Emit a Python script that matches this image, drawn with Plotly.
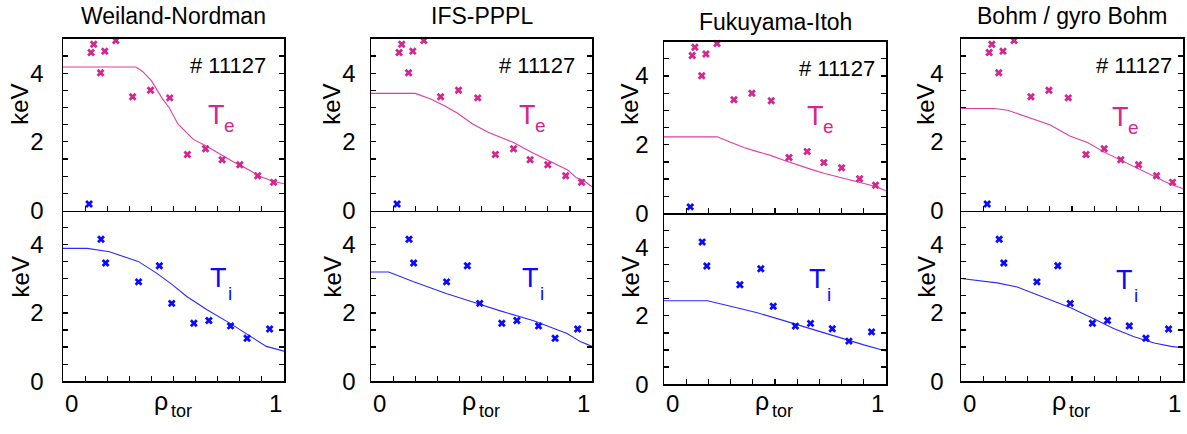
import plotly.graph_objects as go

# ---------------- data ----------------
models = ["Weiland-Nordman", "IFS-PPPL", "Fukuyama-Itoh", "Bohm / gyro Bohm"]
shot_label = "# 11127"

# measured electron temperature (keV)
rho_te = [0.127, 0.139, 0.170, 0.189, 0.239, 0.315, 0.396, 0.483, 0.563, 0.645, 0.720, 0.800, 0.881, 0.953]
te_meas = [4.60, 4.84, 4.01, 4.64, 4.95, 3.31, 3.50, 3.28, 1.63, 1.80, 1.48, 1.33, 1.01, 0.82]

# measured ion temperature (keV)
rho_ti = [0.172, 0.193, 0.342, 0.436, 0.492, 0.592, 0.660, 0.758, 0.833, 0.935]
ti_meas = [4.16, 3.46, 2.91, 3.38, 2.28, 1.70, 1.78, 1.62, 1.26, 1.53]

# single blue point in the Te panels
rho_blue = [0.118]
val_blue = [0.19]

# simulated profiles, per model
te_model_rho = [
    [0.0, 0.33, 0.36, 0.40, 0.45, 0.48, 0.52, 0.56, 0.59, 0.65, 0.71, 0.77, 0.83, 0.89, 0.95, 1.0],
    [0.0, 0.20, 0.27, 0.33, 0.39, 0.46, 0.53, 0.59, 0.645, 0.69, 0.74, 0.83, 0.89, 0.93, 0.96, 1.0],
    [0.0, 0.24, 0.30, 0.36, 0.42, 0.48, 0.54, 0.60, 0.66, 0.72, 0.78, 0.84, 0.90, 0.945, 1.0],
    [0.0, 0.15, 0.21, 0.30, 0.40, 0.49, 0.57, 0.645, 0.72, 0.81, 0.886, 0.946, 1.0],
]
te_model = [
    [4.18, 4.18, 4.05, 3.78, 3.25, 3.00, 2.52, 2.25, 2.07, 1.87, 1.64, 1.42, 1.22, 1.00, 0.85, 0.78],
    [3.41, 3.41, 3.25, 3.06, 2.84, 2.52, 2.28, 2.12, 1.98, 1.82, 1.65, 1.37, 1.18, 0.95, 0.88, 0.69],
    [2.23, 2.23, 2.07, 1.92, 1.80, 1.69, 1.55, 1.41, 1.29, 1.17, 1.07, 0.99, 0.87, 0.80, 0.66],
    [2.97, 2.97, 2.92, 2.73, 2.50, 2.17, 1.98, 1.70, 1.46, 1.18, 0.95, 0.76, 0.64],
]
ti_model_rho = [
    [0.0, 0.11, 0.21, 0.34, 0.42, 0.49, 0.56, 0.65, 0.76, 0.85, 0.92, 1.0],
    [0.0, 0.08, 0.19, 0.34, 0.45, 0.585, 0.736, 0.826, 0.887, 0.947, 1.0],
    [0.0, 0.196, 0.30, 0.42, 0.54, 0.66, 0.78, 0.90, 1.0],
    [0.0, 0.072, 0.163, 0.253, 0.328, 0.404, 0.494, 0.60, 0.69, 0.78, 0.87, 0.946, 1.0],
]
ti_model = [
    [3.89, 3.89, 3.79, 3.51, 3.18, 2.85, 2.48, 2.10, 1.68, 1.30, 1.02, 0.88],
    [3.20, 3.20, 2.92, 2.57, 2.34, 2.06, 1.77, 1.54, 1.40, 1.16, 1.02],
    [2.44, 2.44, 2.28, 2.09, 1.86, 1.62, 1.39, 1.15, 0.97],
    [3.01, 2.95, 2.88, 2.76, 2.57, 2.39, 2.15, 1.82, 1.54, 1.30, 1.12, 1.02, 0.98],
]

# ---------------- styling / layout ----------------
W, H = 1187, 434
FONT = "Liberation Sans, Arial, sans-serif"
MAG_MARK = "#d3268f"
MAG_LINE = "#e03ca4"
BLUE_MARK = "#0a0aff"
BLUE_LINE = "#2a2aff"

# panel pixel geometry: left, right, top, middle, bottom
panels_px = [
    (63, 284, 40, 217, 393),
    (371, 592, 40, 217, 393),
    (664, 886, 43, 220, 396),
    (961, 1183, 40, 217, 393),
]
kev_offset = [43, 39, 34, 35]
tick_standoff = [13, 9, 9, 11]
shot_inset = [16, 15, 9, 9]
title_y = [17, 17, 23, 17]
te_lab = [(0.647, 2.79), (0.660, 2.79), (0.635, 2.85), (0.671, 2.73)]
ti_lab = [(0.656, 3.01), (0.674, 3.01), (0.645, 3.07), (0.690, 2.96)]

fig = go.Figure()
layout = dict(
    width=W, height=H,
    margin=dict(l=0, r=0, t=0, b=0),
    paper_bgcolor="white", plot_bgcolor="white",
    showlegend=False,
    font=dict(family=FONT, color="black"),
)
annotations = []

yt_vals = [i * 0.5 for i in range(10)]
yt_text = ["0" if v == 0 else "2" if v == 2 else "4" if v == 4 else "" for v in yt_vals]
xt_vals = [i / 10 for i in range(11)]

def px_x(v):
    return v / W

def px_y(v):
    return (H - v) / H

for p in range(4):
    L, R, T, M, B = panels_px[p]
    for r in range(2):
        idx = p * 2 + r + 1
        xn = "x" if idx == 1 else f"x{idx}"
        yn = "y" if idx == 1 else f"y{idx}"
        if r == 0:
            ydom = [px_y(M), px_y(T)]
        else:
            ydom = [px_y(B), px_y(M)]
        layout["xaxis" if idx == 1 else f"xaxis{idx}"] = dict(
            domain=[px_x(L), px_x(R)], range=[0, 1], anchor=yn,
            tickmode="array", tickvals=xt_vals, showticklabels=False,
            ticks="inside", ticklen=5, tickwidth=1.2, tickcolor="black",
            showline=True, linecolor="black", linewidth=1.5,
            mirror=True if r == 0 else False,
            showgrid=False, zeroline=False, fixedrange=True,
        )
        layout["yaxis" if idx == 1 else f"yaxis{idx}"] = dict(
            domain=ydom, range=[0, 5], anchor=xn,
            tickmode="array", tickvals=yt_vals, ticktext=yt_text,
            ticks="inside", ticklen=5, tickwidth=1.2, tickcolor="black",
            showline=True, linecolor="black", linewidth=1.5, mirror="ticks",
            showgrid=False, zeroline=False, fixedrange=True,
            tickfont=dict(size=24, family=FONT, color="black"),
            ticklabelstandoff=tick_standoff[p],
        )
        if r == 0:
            fig.add_trace(go.Scatter(x=te_model_rho[p], y=te_model[p], mode="lines",
                                     line=dict(color=MAG_LINE, width=1.1), xaxis=xn, yaxis=yn))
            fig.add_trace(go.Scatter(x=rho_te, y=te_meas, mode="markers",
                                     marker=dict(symbol="x", size=7, color=MAG_MARK, line=dict(width=0)),
                                     xaxis=xn, yaxis=yn, cliponaxis=False))
            fig.add_trace(go.Scatter(x=rho_blue, y=val_blue, mode="markers",
                                     marker=dict(symbol="x", size=7, color=BLUE_MARK, line=dict(width=0)),
                                     xaxis=xn, yaxis=yn))
            lx, ly = te_lab[p]
            annotations.append(dict(xref=xn, yref=yn, x=lx, y=ly, text="T", showarrow=False,
                                    xanchor="left", yanchor="middle",
                                    font=dict(size=27, color=MAG_MARK, family=FONT)))
            annotations.append(dict(xref=xn, yref=yn, x=lx, y=ly, text="e", showarrow=False,
                                    xanchor="left", yanchor="middle", xshift=16, yshift=-11,
                                    font=dict(size=19, color=MAG_MARK, family=FONT)))
            annotations.append(dict(xref="paper", yref="paper", x=px_x(R - shot_inset[p]),
                                    y=px_y(T + 28), text=shot_label, showarrow=False,
                                    xanchor="right", yanchor="middle",
                                    font=dict(size=22, color="black", family=FONT)))
            annotations.append(dict(xref="paper", yref="paper", x=px_x((L + R) / 2),
                                    y=px_y(title_y[p]), text=models[p], showarrow=False,
                                    xanchor="center", yanchor="middle",
                                    font=dict(size=23, color="black", family=FONT)))
            annotations.append(dict(xref="paper", yref="paper", x=px_x(L - kev_offset[p]),
                                    y=px_y(108), text="keV", showarrow=False, textangle=-90,
                                    xanchor="center", yanchor="middle",
                                    font=dict(size=24, color="black", family=FONT)))
        else:
            fig.add_trace(go.Scatter(x=ti_model_rho[p], y=ti_model[p], mode="lines",
                                     line=dict(color=BLUE_LINE, width=1.1), xaxis=xn, yaxis=yn))
            fig.add_trace(go.Scatter(x=rho_ti, y=ti_meas, mode="markers",
                                     marker=dict(symbol="x", size=7, color=BLUE_MARK, line=dict(width=0)),
                                     xaxis=xn, yaxis=yn))
            lx, ly = ti_lab[p]
            annotations.append(dict(xref=xn, yref=yn, x=lx, y=ly, text="T", showarrow=False,
                                    xanchor="left", yanchor="middle",
                                    font=dict(size=27, color=BLUE_MARK, family=FONT)))
            annotations.append(dict(xref=xn, yref=yn, x=lx, y=ly, text="i", showarrow=False,
                                    xanchor="left", yanchor="middle", xshift=18, yshift=-15,
                                    font=dict(size=19, color=BLUE_MARK, family=FONT)))
            annotations.append(dict(xref="paper", yref="paper", x=px_x(L - kev_offset[p]),
                                    y=px_y(286), text="keV", showarrow=False, textangle=-90,
                                    xanchor="center", yanchor="middle",
                                    font=dict(size=24, color="black", family=FONT)))
            annotations.append(dict(xref="paper", yref="paper", x=px_x(L), y=px_y(416),
                                    text="0", showarrow=False, xanchor="left", yanchor="middle",
                                    font=dict(size=24, color="black", family=FONT)))
            annotations.append(dict(xref="paper", yref="paper", x=px_x(R), y=px_y(416),
                                    text="1", showarrow=False, xanchor="right", yanchor="middle",
                                    font=dict(size=24, color="black", family=FONT)))
            annotations.append(dict(xref="paper", yref="paper", x=px_x(L + 98), y=px_y(413),
                                    text="ρ", showarrow=False, xanchor="center", yanchor="middle",
                                    font=dict(size=25, color="black", family=FONT)))
            annotations.append(dict(xref="paper", yref="paper", x=px_x(L + 106), y=px_y(424),
                                    text="tor", showarrow=False, xanchor="left", yanchor="middle",
                                    font=dict(size=18, color="black", family=FONT)))

layout["annotations"] = annotations
fig.update_layout(**layout)
fig.write_html(
    "out.html",
    config={"displayModeBar": False, "staticPlot": True},
    post_script="document.body.style.margin='0';document.body.style.padding='0';",
)
